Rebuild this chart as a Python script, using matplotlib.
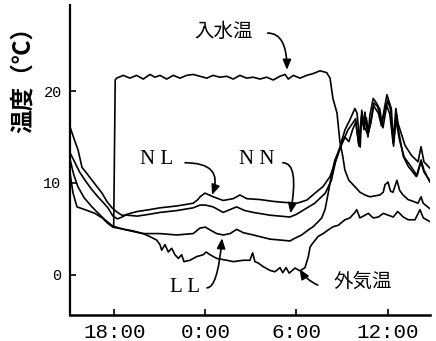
import matplotlib
matplotlib.use('Agg')
import matplotlib.pyplot as plt

# time in hours (24 = 0:00 next day), temperature in deg C
inflow = [(17.95, 5.3), (18.05, 21.2), (18.14, 21.4), (18.58, 21.7), (19.02, 21.4), (19.46, 21.7),
          (19.90, 21.3), (20.34, 21.8), (20.67, 21.5), (21.00, 21.7), (21.44, 21.3), (21.88, 21.7),
          (22.32, 21.4), (22.76, 21.7), (23.19, 21.8), (23.64, 21.6), (24.08, 21.4), (24.51, 21.7),
          (24.95, 21.5), (25.40, 21.6), (25.83, 21.3), (26.27, 21.7), (26.71, 21.4), (27.15, 21.5),
          (27.59, 21.3), (28.03, 21.5), (28.47, 21.2), (28.91, 21.6), (29.24, 21.8), (29.46, 21.3),
          (29.79, 21.7), (30.23, 21.4), (30.67, 21.7), (31.11, 21.9), (31.55, 22.2), (31.99, 22.0),
          (32.21, 21.4), (32.40, 19.2), (32.67, 17.6), (32.86, 14.5), (33.06, 12.8), (33.19, 11.4),
          (33.45, 10.3), (33.85, 9.6), (34.18, 9.0), (34.51, 8.7), (34.84, 8.5), (35.17, 8.6),
          (35.50, 8.7), (35.72, 9.0), (35.83, 9.8), (36.03, 10.1), (36.20, 9.1), (36.36, 9.0),
          (36.62, 10.3), (36.80, 9.2), (37.02, 8.7), (37.35, 8.2), (37.70, 8.0), (38.01, 7.8),
          (38.21, 8.5), (38.35, 7.8), (38.80, 7.2)]

nl = [(15.07, 13.3), (15.4, 12.2), (15.7, 11.2), (16.06, 10.3), (16.5, 9.3), (16.91, 8.5),
      (17.25, 7.9), (17.57, 7.3), (17.9, 6.4), (18.2, 6.1), (18.5, 6.3), (18.82, 6.6), (19.5, 6.9),
      (20.3, 7.1), (21.0, 7.3), (22.1, 7.5), (23.19, 7.8), (23.5, 8.2), (23.64, 8.5), (23.97, 8.9),
      (24.51, 8.5), (25.17, 8.1), (25.83, 8.3), (26.27, 8.7), (26.71, 8.3), (27.59, 8.2),
      (28.47, 8.0), (29.13, 7.9), (30.01, 7.8), (30.23, 7.9), (30.69, 8.15), (31.22, 8.9),
      (31.74, 9.6), (32.21, 10.7), (32.67, 12.8), (33.0, 14.7), (33.2, 15.8), (33.5, 16.8),
      (33.85, 18.1), (33.99, 17.6), (34.2, 13.9), (34.3, 17.9), (34.45, 16.3), (34.51, 17.7),
      (34.71, 15.0), (34.84, 17.4), (35.06, 19.2), (35.3, 18.6), (35.5, 18.0), (35.62, 16.5),
      (35.96, 19.6), (36.15, 18.6), (36.25, 18.1), (36.38, 14.5), (36.55, 18.1), (36.69, 16.5),
      (37.15, 14.1), (37.58, 13.0), (38.01, 12.3), (38.21, 13.95), (38.4, 12.3), (38.8, 11.6)]

nn = [(15.07, 16.1), (15.4, 14.5), (15.6, 13.6), (15.86, 11.7), (16.2, 11.0), (16.52, 10.3),
      (16.85, 9.6), (17.18, 8.9), (17.5, 8.0), (17.84, 7.3), (18.2, 6.8), (18.49, 6.5),
      (18.82, 6.5), (19.5, 6.4), (20.3, 6.6), (21.0, 6.8), (22.1, 7.0), (23.19, 7.3), (23.64, 7.6),
      (24.0, 7.6), (24.51, 7.4), (25.17, 6.8), (25.6, 7.1), (26.05, 7.4), (26.6, 7.0), (27.15, 6.8),
      (28.25, 6.5), (29.57, 6.3), (30.0, 6.6), (30.5, 7.1), (31.2, 7.8), (31.9, 8.9), (32.3, 10.3),
      (32.6, 12.5), (33.0, 14.3), (33.4, 15.8), (33.7, 16.5), (33.9, 17.0), (34.1, 14.2),
      (34.28, 17.3), (34.45, 15.8), (34.6, 17.1), (34.75, 15.5), (34.95, 17.2), (35.1, 18.7),
      (35.35, 18.3), (35.55, 17.1), (35.7, 16.0), (36.0, 19.0), (36.2, 18.0), (36.4, 14.0),
      (36.58, 17.4), (36.8, 15.0), (37.04, 12.9), (37.37, 11.8), (37.9, 10.7), (38.21, 12.5),
      (38.4, 11.4), (38.8, 10.1)]

ll = [(15.07, 12.6), (15.3, 11.0), (15.59, 9.6), (16.0, 8.4), (16.52, 7.4), (17.0, 6.6),
      (17.37, 6.0), (17.9, 5.3), (18.77, 4.9), (19.86, 4.5), (21.0, 4.5), (22.1, 4.35),
      (23.19, 4.5), (23.64, 5.1), (24.0, 5.2), (24.3, 4.9), (24.74, 4.5), (25.18, 4.35),
      (25.62, 4.5), (26.06, 4.96), (26.49, 4.6), (27.15, 4.35), (28.25, 3.9), (29.57, 3.7),
      (29.9, 4.0), (30.34, 4.35), (30.78, 4.9), (31.1, 5.25), (31.43, 5.8), (31.66, 6.2),
      (31.88, 7.1), (32.09, 8.9), (32.32, 11.0), (32.53, 12.5), (32.86, 13.8), (33.19, 15.0),
      (33.45, 14.5), (33.7, 15.8), (33.9, 16.6), (34.12, 14.0), (34.3, 16.8), (34.5, 16.0),
      (34.7, 15.3), (34.9, 16.5), (35.08, 18.4), (35.4, 17.6), (35.6, 16.2), (35.9, 18.6),
      (36.15, 17.5), (36.37, 14.3), (36.56, 16.8), (36.8, 14.6), (37.1, 12.8), (37.5, 11.9),
      (37.95, 10.8), (38.2, 12.3), (38.4, 11.2), (38.8, 10.2)]

air = [(15.07, 11.1), (15.27, 8.9), (15.53, 7.4), (16.06, 7.1), (16.71, 6.7), (17.2, 6.2),
       (17.57, 5.6), (17.9, 5.2), (18.5, 5.0), (19.2, 4.8), (19.9, 4.5), (20.3, 4.2), (20.78, 3.8),
       (21.0, 3.3), (21.11, 2.7), (21.33, 3.3), (21.55, 2.5), (21.77, 2.9), (21.99, 2.2),
       (22.21, 1.8), (22.43, 2.2), (22.58, 1.45), (22.98, 1.6), (23.42, 2.0), (23.85, 2.2),
       (24.04, 2.5), (24.30, 2.2), (24.74, 1.8), (25.40, 1.6), (25.83, 1.45), (26.49, 1.6),
       (26.93, 1.6), (27.11, 2.4), (27.26, 1.45), (27.48, 1.3), (27.81, 0.9), (28.25, 0.5),
       (28.58, 0.35), (28.91, 0.8), (29.09, 0.25), (29.31, 0.8), (29.52, 0.2), (29.90, 0.75),
       (30.23, 0.45), (30.56, 0.8), (30.78, 2.0), (30.89, 3.0), (31.0, 3.3), (31.43, 4.2),
       (31.76, 4.5), (32.09, 4.9), (32.42, 5.25), (32.75, 5.4), (33.19, 6.0), (33.52, 6.2),
       (33.85, 6.8), (33.97, 7.1), (34.18, 6.2), (34.51, 6.5), (34.73, 6.7), (35.06, 6.2),
       (35.39, 6.3), (35.72, 6.7), (36.05, 6.5), (36.38, 6.3), (36.67, 6.9), (37.04, 6.3),
       (37.37, 6.0), (37.81, 6.0), (38.14, 7.1), (38.36, 6.2), (38.80, 5.8)]

xticks = [18, 24, 30, 36]
xticklabels = ['18:00', '0:00', '6:00', '12:00']
yticks = [0, 10, 20]

jp = ['Noto Sans CJK JP', 'DejaVu Sans']

fig = plt.figure(figsize=(4.36, 3.41), dpi=100)
ax = fig.add_axes([70 / 436, 1 - 315 / 341, 360 / 436, 310 / 341])

for series in [inflow, nl, nn, ll, air]:
    t, v = zip(*series)
    ax.plot(t, v, color='black', lw=1.2)

ax.set_xlim(15.07, 38.8)
ax.set_ylim(-4.35, 29.35)

ax.spines['top'].set_visible(False)
ax.spines['right'].set_visible(False)
ax.spines['left'].set_linewidth(1.6)
ax.spines['bottom'].set_linewidth(1.8)

ax.set_xticks(xticks)
ax.set_xticklabels(xticklabels, fontfamily='Liberation Mono', fontsize=15)
ax.set_yticks(yticks)
ax.set_yticklabels([str(y) for y in yticks], fontfamily='Liberation Mono', fontsize=11)
ax.tick_params(axis='x', direction='in', length=4, width=1.2, pad=6)
ax.tick_params(axis='y', direction='in', length=4, width=1.2, pad=6)

fig.text(23 / 436, 1 - 74 / 341, '温度（℃）', rotation=90, ha='center', va='center',
         fontfamily=jp, fontsize=17, fontweight='bold')

# labels
ax.text(25.2, 26.5, '入水温', ha='center', va='center', fontfamily=jp, fontsize=14)
ax.text(20.75, 12.6, 'N L', ha='center', va='center', fontfamily='Liberation Serif', fontsize=15)
ax.text(27.35, 12.6, 'N N', ha='center', va='center', fontfamily='Liberation Serif', fontsize=15)
ax.text(22.65, -1.4, 'L L', ha='center', va='center', fontfamily='Liberation Serif', fontsize=15)
ax.text(34.4, -0.65, '外気温', ha='center', va='center', fontfamily=jp, fontsize=14)

arrow = dict(arrowstyle='-|>,head_length=0.6,head_width=0.25', color='black', lw=1.2,
             shrinkA=0, shrinkB=0, mutation_scale=10)

ax.annotate('', xy=(29.37, 22.3), xytext=(28.1, 26.3),
            arrowprops=dict(arrow, connectionstyle='angle3,angleA=0,angleB=90'))
ax.annotate('', xy=(24.43, 8.7), xytext=(22.65, 12.2),
            arrowprops=dict(arrow, connectionstyle='angle3,angleA=0,angleB=70'))
ax.annotate('', xy=(29.6, 6.7), xytext=(29.1, 12.2),
            arrowprops=dict(arrow, connectionstyle='angle3,angleA=0,angleB=80'))
ax.annotate('', xy=(25.09, 4.0), xytext=(24.1, -1.4),
            arrowprops=dict(arrow, connectionstyle='angle3,angleA=0,angleB=85'))
ax.annotate('', xy=(30.2, 0.65), xytext=(31.4, -1.1),
            arrowprops=dict(arrow, connectionstyle='arc3,rad=-0.15'))

fig.savefig('out.png', dpi=100)
